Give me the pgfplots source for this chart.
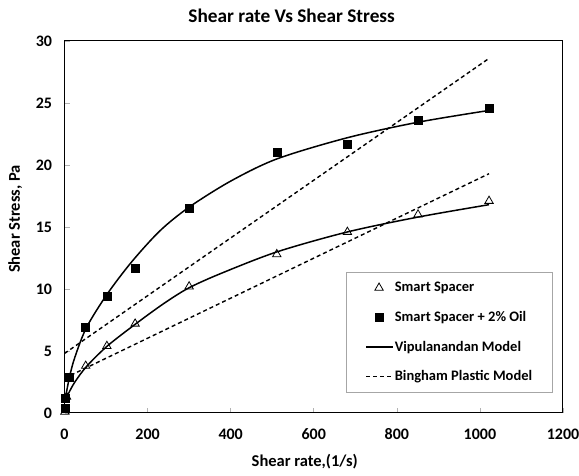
\documentclass[border=0pt]{standalone}
\usepackage{pgfplots}
\pgfplotsset{compat=1.18}
\usepackage{fontspec}
\setmainfont{Carlito}

\pgfplotsset{
  markleg/.style={legend image code/.code={\path (0bp,0bp) (27bp,0bp); \draw[##1] plot coordinates {(13bp,0bp)};}},
  lineleg/.style={legend image code/.code={\draw[##1] (0bp,0bp) -- (27bp,0bp);}},
}

% measured data
\pgfplotstableread{
x y
0.9 0.1
5.1 1.3
51 3.8
102 5.4
170 7.2
300 10.2
511 12.8
681 14.6
851 16.0
1022 17.1
}\spacer
\pgfplotstableread{
x y
0.9 0.4
1.7 1.2
10.2 2.9
51 6.9
102 9.4
170 11.7
300 16.5
511 21.0
681 21.7
851 23.6
1022 24.6
}\spaceroil
% model curves
\pgfplotstableread{
x y
1 0.95
10 1.6
25 2.5
53 3.75
103 5.4
172 7.2
240 8.85
300 10.1
380 11.3
512 13.0
681 14.6
851 15.8
1022 16.8
}\vipA
\pgfplotstableread{
x y
1 1.0
12 2.9
25 4.5
53 6.9
103 9.6
162 12.2
230 14.7
300 16.6
400 18.7
512 20.5
681 22.2
851 23.45
1022 24.4
}\vipB

\begin{document}
\begin{tikzpicture}
\begin{axis}[
  width=498.5bp, height=372bp, scale only axis,
  xmin=0, xmax=1200, ymin=0, ymax=30,
  xtick={0,200,...,1200}, ytick={0,5,...,30},
  tick align=inside, xtick pos=bottom, ytick pos=left,
  major tick length=5bp,
  tick style={gray!60, line width=0.6bp},
  axis line style={line width=1bp},
  /pgf/number format/assume math mode=true,
  /pgf/number format/1000 sep={},
  ticklabel style={font=\fontsize{16bp}{19bp}\selectfont\bfseries},
  xticklabel style={yshift=-12bp},
  yticklabel style={xshift=-9bp},
  xlabel={Shear rate,(1/s)},
  ylabel={Shear Stress, Pa},
  label style={font=\fontsize{16.5bp}{20bp}\selectfont\bfseries},
  xlabel style={at={(axis description cs:0.482,-0.145)}, anchor=base},
  ylabel style={at={(axis description cs:-0.099,0.5215)}, anchor=center},
  clip=false,
  legend style={at={(axis description cs:0.5647,0.379)}, anchor=north west,
    draw=gray!70, line width=0.6bp,
    font=\fontsize{14.5bp}{17bp}\selectfont\bfseries,
    inner xsep=19bp, inner ysep=8bp, row sep=14bp,
    nodes={inner xsep=1bp},
    cells={anchor=west}},
]
\addplot[only marks, mark=triangle, mark size=4.8bp, mark options={line width=0.8bp, fill=white}, markleg]
  table {\spacer};
\addlegendentry{Smart Spacer}
\addplot[only marks, mark=square*, mark size=4bp, black, markleg]
  table {\spaceroil};
\addlegendentry{Smart Spacer + 2\% Oil}
\addplot[black, line width=1.5bp, smooth, no marks, lineleg]
  table {\vipA};
\addlegendentry{Vipulanandan Model}
\addplot[black, line width=1.4bp, dash pattern=on 4bp off 3bp, no marks, lineleg]
  coordinates {(0,2.8) (1022,19.3)};
\addlegendentry{Bingham Plastic Model}
\addplot[black, line width=1.5bp, smooth, no marks, forget plot] table {\vipB};
\addplot[black, line width=1.4bp, dash pattern=on 4bp off 3bp, no marks, forget plot]
  coordinates {(0,4.8) (1022,28.6)};
\node[font=\fontsize{19.3bp}{23bp}\selectfont\bfseries, anchor=base]
  at (axis description cs:0.4557,1.0492) {Shear rate Vs Shear Stress};
\coordinate (bbsw) at (axis description cs:-0.1294,-0.1667);
\coordinate (bbne) at (axis description cs:1.0321,1.1102);
\end{axis}
\pgfresetboundingbox
\path (bbsw) rectangle (bbne);
\end{tikzpicture}
\end{document}
